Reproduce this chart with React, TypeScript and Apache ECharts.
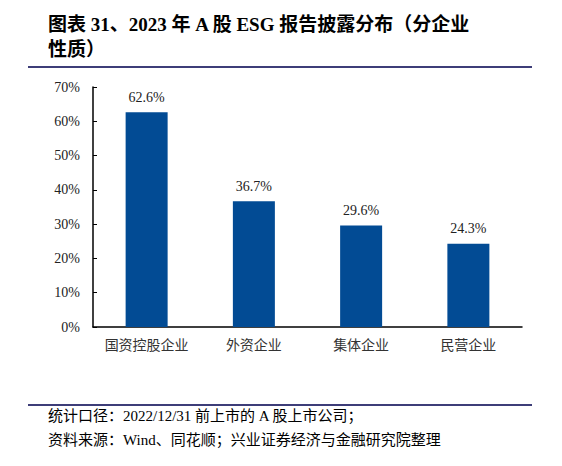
import { useEffect, useRef } from 'react';
import * as echarts from 'echarts';

const categories = ['国资控股企业', '外资企业', '集体企业', '民营企业'];
const shares = [62.6, 36.7, 29.6, 24.3];
const titleLines = ['图表 31、2023 年 A 股 ESG 报告披露分布（分企业', '性质）'];
const noteLines = [
  '统计口径：2022/12/31 前上市的 A 股上市公司；',
  '资料来源：Wind、同花顺；兴业证券经济与金融研究院整理',
];

const FONT = 'Liberation Serif, Noto Sans CJK SC';
const CSS_FONT = "'Liberation Serif', 'Noto Sans CJK SC', serif";
const RULE = '#3d3d78';
const BAR = '#024b94';

export default function App() {
  const chartRef = useRef<HTMLDivElement>(null);

  useEffect(() => {
    if (!chartRef.current) return;
    const chart = echarts.init(chartRef.current, undefined, { renderer: 'svg' });

    const option: echarts.EChartsOption = {
      animation: false,
      grid: { left: 93, right: 40, top: 87, bottom: 139 },
      xAxis: {
        type: 'category',
        data: categories,
        axisLine: { lineStyle: { color: '#000', width: 1.5 } },
        axisTick: { show: false },
        axisLabel: { interval: 0, margin: 11, color: '#333', fontSize: 14, fontFamily: FONT },
      },
      yAxis: {
        type: 'value',
        min: 0,
        max: 70,
        interval: 10,
        axisLine: { show: true, lineStyle: { color: '#000', width: 1.5 } },
        axisTick: { show: true, inside: true, length: 4, lineStyle: { color: '#000' } },
        splitLine: { show: false },
        axisLabel: {
          color: '#222',
          fontSize: 14,
          margin: 13,
          fontFamily: FONT,
          formatter: (v: number) => `${v}%`,
        },
      },
      series: [
        {
          type: 'bar',
          data: shares,
          barWidth: 42,
          itemStyle: { color: BAR },
          label: {
            show: true,
            position: 'top',
            distance: 8,
            color: '#222',
            fontSize: 14,
            fontFamily: FONT,
            formatter: (p: any) => `${p.value.toFixed(1)}%`,
          },
        },
      ],
      graphic: [
        ...titleLines.map((t, i) => ({
          type: 'text' as const,
          left: 48,
          top: 15 + i * 25,
          style: { text: t, fill: '#000', font: `bold 19px ${FONT}` },
        })),
        {
          type: 'line',
          shape: { x1: 28, y1: 67, x2: 532, y2: 67 },
          style: { stroke: RULE, lineWidth: 2 },
        },
        {
          type: 'line',
          shape: { x1: 28, y1: 405, x2: 532, y2: 405 },
          style: { stroke: RULE, lineWidth: 2 },
        },
        ...noteLines.map((t, i) => ({
          type: 'text' as const,
          left: 48,
          top: 408 + i * 24,
          style: { text: t, fill: '#000', font: `15px ${FONT}` },
        })),
      ],
    };

    chart.setOption(option);

    // labels kept coming out sans, so force the serif family on the rendered svg texts
    chartRef.current.querySelectorAll('text').forEach((t) => {
      (t as SVGTextElement).style.fontFamily = CSS_FONT;
    });

    return () => chart.dispose();
  }, []);

  return (
    <div
      ref={chartRef}
      style={{ position: 'fixed', left: 0, top: 0, width: 562, height: 466, background: '#fff' }}
    />
  );
}
